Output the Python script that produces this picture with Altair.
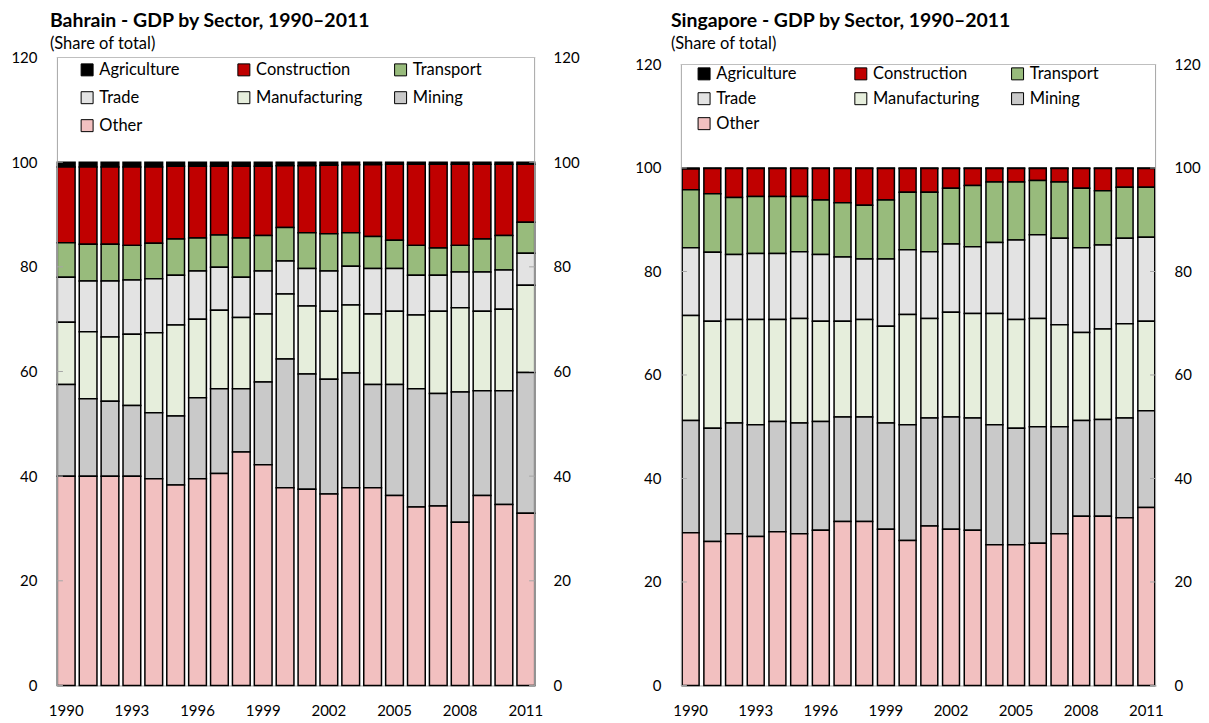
import altair as alt
import pandas as pd

years = list(range(1990, 2012))
sectors = ["Agriculture", "Construction", "Transport", "Trade", "Manufacturing", "Mining", "Other"]
stack_order = ["Other", "Mining", "Manufacturing", "Trade", "Transport", "Construction", "Agriculture"]
sector_colors = ["#000000", "#C00000", "#98BB7C", "#E3E3E3", "#E6EEDC", "#C9C9C9", "#F2C0C0"]
y_ticks = [0, 20, 40, 60, 80, 100, 120]
x_labels = [1990, 1993, 1996, 1999, 2002, 2005, 2008, 2011]

# Bahrain, share of total (%)
bh_agriculture = [0.9, 0.9, 0.9, 0.9, 0.9, 0.8, 0.8, 0.8, 0.8, 0.8, 0.7, 0.7, 0.6, 0.5, 0.5, 0.4, 0.4, 0.4, 0.4, 0.4, 0.4, 0.4]
bh_construction = [14.5, 14.8, 14.8, 15.0, 14.6, 13.9, 13.7, 13.1, 13.7, 13.2, 11.8, 12.8, 13.1, 13.0, 13.7, 14.5, 15.5, 16.0, 15.5, 14.3, 13.6, 11.1]
bh_transport = [6.6, 7.0, 7.0, 6.6, 6.8, 6.9, 6.3, 6.2, 7.5, 6.8, 6.4, 6.8, 7.1, 6.4, 6.1, 5.4, 5.7, 5.2, 5.1, 6.3, 6.6, 5.9]
bh_trade = [8.6, 9.7, 10.7, 10.4, 10.3, 9.5, 9.2, 8.2, 7.7, 8.2, 6.3, 7.2, 7.7, 7.4, 8.7, 8.2, 7.6, 6.9, 6.8, 7.5, 7.5, 6.1]
bh_manufacturing = [11.9, 12.8, 12.3, 13.6, 15.3, 17.4, 15.0, 15.0, 13.6, 13.0, 12.4, 13.0, 13.0, 13.0, 13.5, 14.0, 14.1, 15.7, 16.1, 15.2, 15.6, 16.7]
bh_mining = [17.5, 14.8, 14.3, 13.5, 12.6, 13.2, 15.5, 16.2, 12.1, 15.8, 24.6, 22.0, 21.9, 21.9, 19.7, 21.2, 22.6, 21.5, 24.9, 20.0, 21.7, 26.9]
bh_other = [40.0, 40.0, 40.0, 40.0, 39.5, 38.3, 39.5, 40.5, 44.6, 42.2, 37.8, 37.5, 36.6, 37.8, 37.8, 36.3, 34.1, 34.3, 31.2, 36.3, 34.6, 32.9]

# Singapore, share of total (%)
sg_agriculture = [0.2, 0.1, 0.1, 0.1, 0.1, 0.1, 0.1, 0.1, 0.1, 0.1, 0.1, 0.1, 0.1, 0.1, 0.1, 0.1, 0.1, 0.1, 0.1, 0.1, 0.1, 0.1]
sg_construction = [4.0, 4.9, 5.6, 5.4, 5.4, 5.4, 6.1, 6.6, 7.1, 6.1, 4.6, 4.6, 3.8, 3.3, 2.6, 2.6, 2.3, 2.6, 3.8, 4.3, 3.6, 3.6]
sg_transport = [11.2, 11.3, 11.0, 11.0, 11.0, 10.7, 10.5, 10.5, 10.4, 11.4, 11.1, 11.5, 10.8, 11.8, 11.7, 11.2, 10.5, 10.9, 11.5, 10.5, 9.9, 9.7]
sg_trade = [13.1, 13.3, 12.6, 12.8, 12.8, 12.9, 12.9, 12.4, 11.7, 13.0, 12.5, 12.9, 13.2, 12.9, 13.7, 15.4, 16.2, 16.7, 16.4, 16.2, 16.5, 16.2]
sg_manufacturing = [20.3, 20.7, 20.0, 20.3, 19.7, 20.2, 19.4, 18.5, 18.8, 18.7, 21.3, 19.2, 20.2, 20.2, 21.5, 21.0, 20.9, 19.7, 17.0, 17.5, 18.2, 17.3]
sg_mining = [21.7, 21.9, 21.4, 21.6, 21.3, 21.4, 21.0, 20.2, 20.2, 20.5, 22.4, 20.9, 21.7, 21.7, 23.2, 22.5, 22.5, 20.7, 18.5, 18.7, 19.3, 18.7]
sg_other = [29.5, 27.8, 29.3, 28.8, 29.7, 29.3, 30.0, 31.7, 31.7, 30.2, 28.0, 30.8, 30.2, 30.0, 27.2, 27.2, 27.5, 29.3, 32.7, 32.7, 32.4, 34.4]

bahrain = {"Agriculture": bh_agriculture, "Construction": bh_construction, "Transport": bh_transport,
           "Trade": bh_trade, "Manufacturing": bh_manufacturing, "Mining": bh_mining, "Other": bh_other}
singapore = {"Agriculture": sg_agriculture, "Construction": sg_construction, "Transport": sg_transport,
             "Trade": sg_trade, "Manufacturing": sg_manufacturing, "Mining": sg_mining, "Other": sg_other}


def frame(series):
    rows = []
    for sector, values in series.items():
        for year, value in zip(years, values):
            rows.append({"year": year, "sector": sector, "share": value,
                         "rank": stack_order.index(sector)})
    return pd.DataFrame(rows)


FONT = "Lato"
AX = "#A6A6A6"
LAB = 15


def panel(df, title, w, h, ymax, pad_inner, pad_outer, title_dx, title_offset, leg_x, leg_y, row_pad):
    yscale = alt.Scale(domain=[0, ymax], nice=False, zero=True)
    x = alt.X("year:O", title=None,
              scale=alt.Scale(paddingInner=pad_inner, paddingOuter=pad_outer),
              axis=alt.Axis(values=x_labels, labelAngle=0, ticks=False, tickSize=0, labelPadding=18,
                            domainColor=AX, labelFont=FONT, labelFontSize=LAB, labelColor="black"))
    bars = alt.Chart(df).mark_bar(stroke="black", strokeWidth=1.5).encode(
        x=x,
        y=alt.Y("share:Q", stack="zero", scale=yscale, title=None,
                axis=alt.Axis(orient="left", values=y_ticks, grid=False, ticks=False, tickSize=0,
                              domain=False, labelPadding=20, labelFont=FONT, labelFontSize=LAB,
                              labelColor="black")),
        color=alt.Color("sector:N", scale=alt.Scale(domain=sectors, range=sector_colors),
                        legend=alt.Legend(title=None, orient="none", legendX=leg_x, legendY=leg_y,
                                          direction="horizontal", columns=3, gridAlign="all",
                                          columnPadding=30, rowPadding=row_pad, symbolType="square",
                                          symbolSize=144, symbolStrokeColor="black",
                                          symbolStrokeWidth=1, symbolOpacity=1, labelFont=FONT,
                                          labelFontSize=16.5, labelColor="black", labelOffset=4,
                                          padding=0)),
        order=alt.Order("rank:Q", sort="ascending"),
    )
    tick_df = pd.DataFrame({"tick": y_ticks})
    left_ticks = alt.Chart(tick_df).mark_rule(color=AX, strokeWidth=1).encode(
        y=alt.Y("tick:Q", scale=yscale, title=None,
                axis=alt.Axis(orient="right", values=y_ticks, grid=False, ticks=False, tickSize=0,
                              domain=False, labelPadding=18, labelFont=FONT, labelFontSize=LAB,
                              labelColor="black")),
        x=alt.value(0), x2=alt.value(6))
    right_ticks = alt.Chart(tick_df).mark_rule(color=AX, strokeWidth=1).encode(
        y=alt.Y("tick:Q", scale=yscale, axis=None),
        x=alt.value(w - 6), x2=alt.value(w))
    box_df = pd.DataFrame({"lo": [0], "hi": [120]})
    left_edge = alt.Chart(box_df).mark_rule(color=AX, strokeWidth=1).encode(
        y=alt.Y("lo:Q", scale=yscale, axis=None), y2="hi:Q", x=alt.value(0.5))
    right_edge = alt.Chart(box_df).mark_rule(color=AX, strokeWidth=1).encode(
        y=alt.Y("lo:Q", scale=yscale, axis=None), y2="hi:Q", x=alt.value(w - 0.5))
    top_edge = alt.Chart(box_df).mark_rule(color="#BFBFBF", strokeWidth=1).encode(
        y=alt.Y("hi:Q", scale=yscale, axis=None), x=alt.value(0), x2=alt.value(w))
    return alt.layer(bars, left_ticks, right_ticks, left_edge, right_edge, top_edge).resolve_axis(
        y="independent").properties(
        width=w, height=h,
        title=alt.TitleParams(text=title, subtitle="(Share of total)", anchor="start", frame="group",
                              dx=title_dx, offset=title_offset, font=FONT, fontSize=19.5,
                              fontWeight="bold", color="black", subtitleFont=FONT,
                              subtitleFontSize=16.5, subtitleColor="black", subtitlePadding=4.5))


left = panel(frame(bahrain), "Bahrain - GDP by Sector, 1990\u20132011", 479, 629, 120,
             0.19, 0.02, -7, -3, 22, 4, 11)
right = panel(frame(singapore), "Singapore - GDP by Sector, 1990\u20132011", 476, 629, 120 * 629 / 622,
              0.22, 0.06, -10, 4, 15, 8, 8)

chart = alt.hconcat(left, right, spacing=54).resolve_scale(color="independent").configure_view(
    stroke=None).properties(padding={"left": 2, "top": 2, "right": 0, "bottom": 0}, background="white")

chart.save("out.html", embed_options={"renderer": "svg", "actions": False})
